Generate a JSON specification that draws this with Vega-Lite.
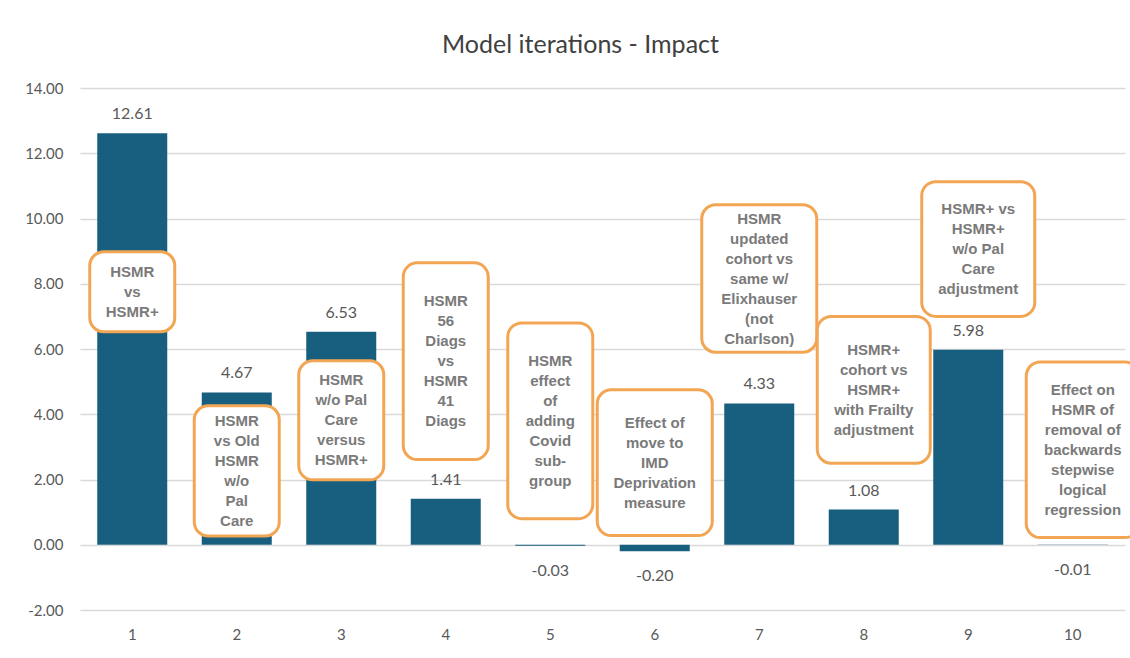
{
  "$schema": "https://vega.github.io/schema/vega-lite/v6.json",
  "autosize": {"type": "none"},
  "padding": {"left": 80, "top": 88, "right": 5, "bottom": 48},
  "width": 1045,
  "height": 522,
  "background": "white",
  "title": {
    "text": "Model iterations - Impact",
    "font": "Lato",
    "fontSize": 25,
    "fontWeight": "normal",
    "color": "#404040",
    "anchor": "middle",
    "offset": 23,
    "dx": -22
  },
  "datasets": {
    "iterations": [
      {"iteration": 1, "impact": 12.61, "note": "HSMR|vs|HSMR+", "noteTop": 8.98, "noteBottom": 6.53},
      {"iteration": 2, "impact": 4.67, "note": "HSMR|vs Old|HSMR|w/o|Pal|Care", "noteTop": 4.26, "noteBottom": 0.27},
      {"iteration": 3, "impact": 6.53, "note": "HSMR|w/o Pal|Care|versus|HSMR+", "noteTop": 5.64, "noteBottom": 1.99},
      {"iteration": 4, "impact": 1.41, "note": "HSMR|56|Diags|vs|HSMR|41|Diags", "noteTop": 8.64, "noteBottom": 2.61},
      {"iteration": 5, "impact": -0.03, "note": "HSMR|effect|of|adding|Covid|sub-|group", "noteTop": 6.8, "noteBottom": 0.8},
      {"iteration": 6, "impact": -0.2, "note": "Effect of|move to|IMD|Deprivation|measure", "noteTop": 4.75, "noteBottom": 0.28},
      {"iteration": 7, "impact": 4.33, "note": "HSMR|updated|cohort vs|same w/|Elixhauser|(not|Charlson)", "noteTop": 10.42, "noteBottom": 5.9},
      {"iteration": 8, "impact": 1.08, "note": "HSMR+|cohort vs|HSMR+|with Frailty|adjustment", "noteTop": 7.0, "noteBottom": 2.5},
      {"iteration": 9, "impact": 5.98, "note": "HSMR+ vs|HSMR+|w/o Pal|Care|adjustment", "noteTop": 11.13, "noteBottom": 7.0},
      {"iteration": 10, "impact": -0.01, "note": "Effect on|HSMR of|removal of|backwards|stepwise|logical|regression", "noteTop": 5.6, "noteBottom": 0.22}
    ]
  },
  "data": {"name": "iterations"},
  "encoding": {
    "x": {
      "field": "iteration",
      "type": "ordinal",
      "scale": {"paddingInner": 0.33, "paddingOuter": 0.165},
      "axis": {
        "title": null,
        "labelAngle": 0,
        "labelFont": "Lato",
        "labelFontSize": 15,
        "labelColor": "#595959",
        "labelPadding": 17,
        "domain": false,
        "ticks": false,
        "grid": false
      }
    }
  },
  "layer": [
    {
      "mark": {"type": "bar", "color": "#185f7f"},
      "encoding": {
        "y": {
          "field": "impact",
          "type": "quantitative",
          "scale": {"domain": [-2, 14], "nice": false, "zero": false},
          "axis": {
            "title": null,
            "values": [-2, 0, 2, 4, 6, 8, 10, 12, 14],
            "format": ".2f",
            "labelFont": "Lato",
            "labelFontSize": 15,
            "labelColor": "#595959",
            "labelPadding": 17,
            "domain": false,
            "ticks": false,
            "grid": true,
            "gridColor": "#d9d9d9",
            "gridWidth": 1.5
          }
        }
      }
    },
    {
      "transform": [{"filter": "datum.impact >= 0"}],
      "mark": {"type": "text", "baseline": "bottom", "dy": -11, "font": "Lato", "fontSize": 16, "color": "#595959"},
      "encoding": {
        "y": {"field": "impact", "type": "quantitative"},
        "text": {"field": "impact", "type": "quantitative", "format": ".2f"}
      }
    },
    {
      "transform": [{"filter": "datum.impact < 0"}],
      "mark": {"type": "text", "baseline": "top", "dy": 17, "font": "Lato", "fontSize": 16, "color": "#595959"},
      "encoding": {
        "y": {"field": "impact", "type": "quantitative"},
        "text": {"field": "impact", "type": "quantitative", "format": ".2f"}
      }
    },
    {
      "transform": [{"filter": {"field": "iteration", "oneOf": [1, 2, 3, 4, 5]}}],
      "mark": {"type": "bar", "size": 85, "cornerRadius": 14, "fill": "white", "stroke": "#f2a654", "strokeWidth": 3},
      "encoding": {
        "y": {"field": "noteTop", "type": "quantitative"},
        "y2": {"field": "noteBottom"}
      }
    },
    {
      "transform": [{"filter": {"field": "iteration", "oneOf": [6, 7]}}],
      "mark": {"type": "bar", "size": 115, "cornerRadius": 14, "fill": "white", "stroke": "#f2a654", "strokeWidth": 3},
      "encoding": {
        "y": {"field": "noteTop", "type": "quantitative"},
        "y2": {"field": "noteBottom"}
      }
    },
    {
      "transform": [{"filter": {"field": "iteration", "oneOf": [8, 9, 10]}}],
      "mark": {"type": "bar", "size": 113, "xOffset": 10, "cornerRadius": 14, "fill": "white", "stroke": "#f2a654", "strokeWidth": 3},
      "encoding": {
        "y": {"field": "noteTop", "type": "quantitative"},
        "y2": {"field": "noteBottom"}
      }
    },
    {
      "transform": [
        {"fold": ["noteTop", "noteBottom"], "as": ["edge", "edgeValue"]},
        {"filter": {"field": "iteration", "oneOf": [1]}}
      ],
      "mark": {"type": "text", "lineBreak": "|", "baseline": "middle", "dy": -20, "font": "Liberation Sans", "fontWeight": "bold", "fontSize": 15, "lineHeight": 20, "color": "#7a7a7a"},
      "encoding": {
        "y": {"field": "edgeValue", "aggregate": "mean", "type": "quantitative"},
        "text": {"field": "note", "type": "nominal"}
      }
    },
    {
      "transform": [
        {"fold": ["noteTop", "noteBottom"], "as": ["edge", "edgeValue"]},
        {"filter": {"field": "iteration", "oneOf": [3, 6]}}
      ],
      "mark": {"type": "text", "lineBreak": "|", "baseline": "middle", "dy": -40, "font": "Liberation Sans", "fontWeight": "bold", "fontSize": 15, "lineHeight": 20, "color": "#7a7a7a"},
      "encoding": {
        "y": {"field": "edgeValue", "aggregate": "mean", "type": "quantitative"},
        "text": {"field": "note", "type": "nominal"}
      }
    },
    {
      "transform": [
        {"fold": ["noteTop", "noteBottom"], "as": ["edge", "edgeValue"]},
        {"filter": {"field": "iteration", "oneOf": [8, 9]}}
      ],
      "mark": {"type": "text", "lineBreak": "|", "baseline": "middle", "dy": -40, "dx": 10, "font": "Liberation Sans", "fontWeight": "bold", "fontSize": 15, "lineHeight": 20, "color": "#7a7a7a"},
      "encoding": {
        "y": {"field": "edgeValue", "aggregate": "mean", "type": "quantitative"},
        "text": {"field": "note", "type": "nominal"}
      }
    },
    {
      "transform": [
        {"fold": ["noteTop", "noteBottom"], "as": ["edge", "edgeValue"]},
        {"filter": {"field": "iteration", "oneOf": [2]}}
      ],
      "mark": {"type": "text", "lineBreak": "|", "baseline": "middle", "dy": -50, "font": "Liberation Sans", "fontWeight": "bold", "fontSize": 15, "lineHeight": 20, "color": "#7a7a7a"},
      "encoding": {
        "y": {"field": "edgeValue", "aggregate": "mean", "type": "quantitative"},
        "text": {"field": "note", "type": "nominal"}
      }
    },
    {
      "transform": [
        {"fold": ["noteTop", "noteBottom"], "as": ["edge", "edgeValue"]},
        {"filter": {"field": "iteration", "oneOf": [4, 5, 7]}}
      ],
      "mark": {"type": "text", "lineBreak": "|", "baseline": "middle", "dy": -60, "font": "Liberation Sans", "fontWeight": "bold", "fontSize": 15, "lineHeight": 20, "color": "#7a7a7a"},
      "encoding": {
        "y": {"field": "edgeValue", "aggregate": "mean", "type": "quantitative"},
        "text": {"field": "note", "type": "nominal"}
      }
    },
    {
      "transform": [
        {"fold": ["noteTop", "noteBottom"], "as": ["edge", "edgeValue"]},
        {"filter": {"field": "iteration", "oneOf": [10]}}
      ],
      "mark": {"type": "text", "lineBreak": "|", "baseline": "middle", "dy": -60, "dx": 10, "font": "Liberation Sans", "fontWeight": "bold", "fontSize": 15, "lineHeight": 20, "color": "#7a7a7a"},
      "encoding": {
        "y": {"field": "edgeValue", "aggregate": "mean", "type": "quantitative"},
        "text": {"field": "note", "type": "nominal"}
      }
    }
  ],
  "config": {
    "view": {"stroke": null},
    "locale": {
      "number": {"decimal": ".", "thousands": ",", "grouping": [3], "currency": ["", ""], "minus": "-"}
    }
  }
}
